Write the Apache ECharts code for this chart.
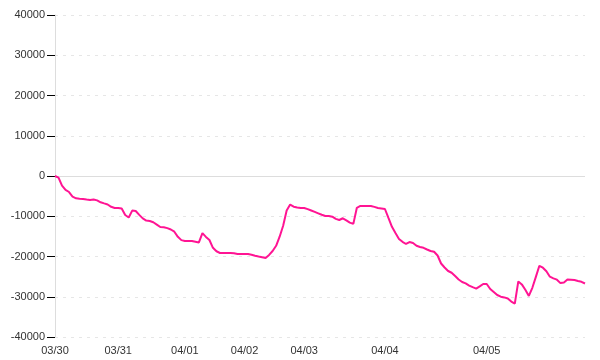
<!DOCTYPE html>
<html>
<head>
<meta charset="utf-8">
<script src="https://cdn.jsdelivr.net/npm/echarts@6/dist/echarts.min.js"></script>
<style>html,body{margin:0;padding:0;background:#fff}#c{width:600px;height:360px}</style>
</head>
<body>
<div id="c"></div>
<script>
// Day labels shown on the x axis and number of samples per day
var dayLabels = ['03/30', '03/31', '04/01', '04/02', '04/03', '04/04', '04/05'];
var dayCounts = [18, 19, 17, 17, 23, 29, 29];

// Y axis tick values
var yTicks = [-40000, -30000, -20000, -10000, 0, 10000, 20000, 30000, 40000];

// Series values
var values = [
  0, -400, -2400, -3450, -3980, -5120, -5540, -5640, -5710, -5860,
  -5960, -5840, -6060, -6530, -6810, -7080, -7650, -7950, -7950, -8090,
  -9700, -10300, -8600, -8700, -9660, -10530, -11080, -11180, -11500, -12070,
  -12670, -12720, -12950, -13290, -13840, -15110, -15930, -16130, -16150, -16150,
  -16320, -16500, -14200, -15130, -15900, -17840, -18700, -19130, -19130, -19130,
  -19130, -19210, -19380, -19380, -19380, -19380, -19560, -19800, -20000, -20170,
  -20350, -19600, -18630, -17340, -15080, -12350, -8550, -7100, -7630, -7800,
  -7950, -7950, -8220, -8570, -8920, -9270, -9620, -9940, -9940, -10110,
  -10650, -10930, -10500, -11010, -11580, -11900, -7900, -7450, -7450, -7450,
  -7450, -7670, -7950, -8070, -8200, -10430, -12620, -14160, -15630, -16350,
  -16890, -16400, -16650, -17340, -17640, -17850, -18260, -18630, -18830, -19750,
  -21740, -22730, -23600, -24040, -24850, -25710, -26340, -26680, -27230, -27620,
  -27970, -27430, -26830, -26830, -28080, -28820, -29570, -29990, -30160, -30430,
  -31200, -31700, -26200, -26930, -28270, -29800, -27780, -25070, -22300, -22780,
  -23680, -25020, -25420, -25760, -26610, -26460, -25710, -25760, -25840, -26090,
  -26290, -26710
];

var categories = [];
var firstIdx = {};
for (var d = 0; d < dayLabels.length; d++) {
  firstIdx[categories.length] = true;
  for (var k = 0; k < dayCounts[d]; k++) {
    categories.push(dayLabels[d] + ' ' + k);
  }
}

var chart = echarts.init(document.getElementById('c'), null, {renderer: 'canvas'});
chart.setOption({
  animation: false,
  grid: {left: 55, right: 15, top: 15, bottom: 23, containLabel: false},
  xAxis: {
    type: 'category',
    data: categories,
    boundaryGap: false,
    axisLine: {show: false},
    axisTick: {show: false},
    splitLine: {show: false},
    axisLabel: {
      interval: function (idx) { return !!firstIdx[idx]; },
      formatter: function (v) { return v.split(' ')[0]; },
      color: '#333',
      fontFamily: 'Liberation Sans, Arial, sans-serif',
      fontSize: 11,
      margin: 8
    }
  },
  yAxis: {
    type: 'value',
    min: yTicks[0],
    max: yTicks[yTicks.length - 1],
    interval: 10000,
    axisLine: {show: true, lineStyle: {color: '#dddddd', width: 1}},
    axisTick: {show: true, length: 8, lineStyle: {color: '#000', width: 1}},
    axisLabel: {
      color: '#333',
      fontFamily: 'Liberation Sans, Arial, sans-serif',
      fontSize: 11,
      margin: 10,
      formatter: function (v) { return String(v); }
    },
    splitLine: {show: true, lineStyle: {color: '#e6e6e6', type: [3, 5], width: 1}}
  },
  series: [{
    type: 'line',
    data: values,
    showSymbol: false,
    symbol: 'none',
    lineStyle: {color: '#ff1493', width: 2},
    itemStyle: {color: '#ff1493'},
    markLine: {
      silent: true,
      symbol: 'none',
      label: {show: false},
      lineStyle: {color: '#dddddd', type: 'solid', width: 1},
      data: [{yAxis: 0}],
      z: 1
    },
    z: 3
  }]
});
</script>
</body>
</html>
